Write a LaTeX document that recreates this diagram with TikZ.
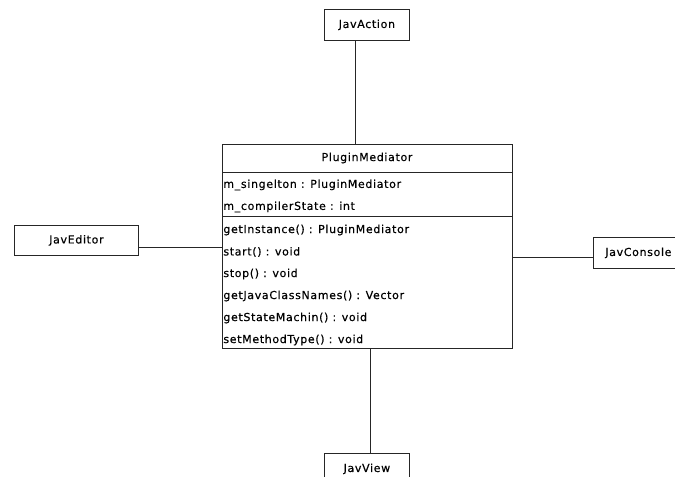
\documentclass[tikz,border=0pt]{standalone}
\usepackage{fontspec}
\setmainfont{DejaVu Sans}[LetterSpace=6, FakeBold=0.4]
\begin{document}
\begin{tikzpicture}[x=1bp,y=-1bp,
  line width=0.8bp,
  classbox/.style={draw=black!85, fill=white, rectangle, inner sep=0pt,
    minimum width=85bp, minimum height=31bp, anchor=north west,
    font=\fontsize{11bp}{13bp}\selectfont, text=black},
  member/.style={anchor=west, inner sep=0pt, font=\fontsize{11bp}{13bp}\selectfont, text=black},
  link/.style={draw=black!85}]
\useasboundingbox (0,0) rectangle (675,477);

% central class
\node[draw=black!85, rectangle, inner sep=0pt, minimum width=290bp, minimum height=204bp,
      anchor=north west] (pm) at (222,144) {};
\draw[link] (222,172) -- (512,172);
\draw[link] (222,216) -- (512,216);
\node[member, anchor=center] (title) at (367,158) {PluginMediator};
\node[member] (a1) at (223,185) {m\_singelton : PluginMediator};
\node[member] (a2) at (223,207) {m\_compilerState : int};
\node[member] (m1) at (223,230) {getInstance() : PluginMediator};
\node[member] (m2) at (223,252) {start() : void};
\node[member] (m3) at (223,274) {stop() : void};
\node[member] (m4) at (223,296) {getJavaClassNames() : Vector};
\node[member] (m5) at (223,318) {getStateMachin() : void};
\node[member] (m6) at (223,340) {setMethodType() : void};

% surrounding classes
\node[classbox] (action) at (324,9) {JavAction};
\node[classbox, minimum width=124bp, minimum height=30bp] (editor) at (14,225) {JavEditor};
\node[classbox, minimum width=90bp] (console) at (593,237) {JavConsole};
\node[classbox] (view) at (324,453) {JavView};

% associations
\draw[link] ([xshift=-11.5bp]action.south) -- ([xshift=-11.5bp]action.south |- pm.north);
\draw[link] ([yshift=-7bp]editor.east) -- ([yshift=-7bp]editor.east -| pm.west);
\draw[link] ([yshift=-4.5bp]console.west) -- ([yshift=-4.5bp]console.west -| pm.east);
\draw[link] ([xshift=3.5bp]view.north) -- ([xshift=3.5bp]view.north |- pm.south);
\end{tikzpicture}
\end{document}
